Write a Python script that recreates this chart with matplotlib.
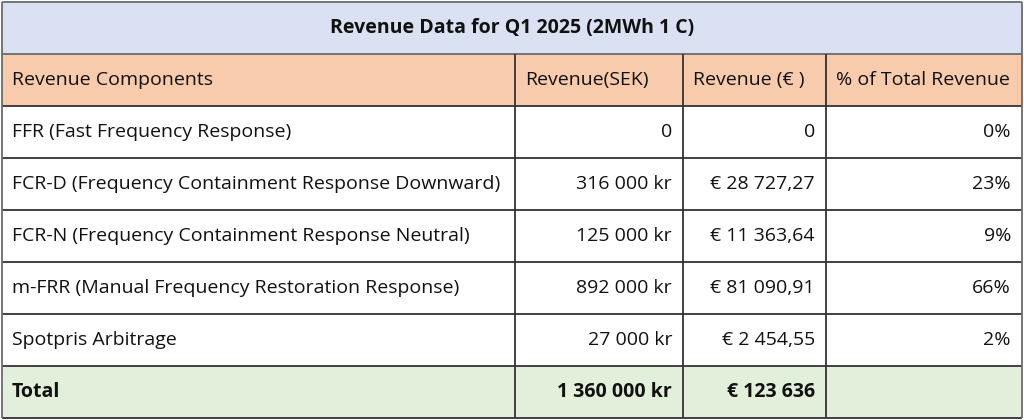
import matplotlib
matplotlib.use("Agg")
import matplotlib.pyplot as plt
from matplotlib.patches import Rectangle

# table content
title = "Revenue Data for Q1 2025 (2MWh 1 C)"
headers = ["Revenue Components", "Revenue(SEK)", "Revenue (€ )", "% of Total Revenue"]
components = [
    "FFR (Fast Frequency Response)",
    "FCR-D (Frequency Containment Response Downward)",
    "FCR-N (Frequency Containment Response Neutral)",
    "m-FRR (Manual Frequency Restoration Response)",
    "Spotpris Arbitrage",
]
revenue_sek = ["0", "316 000 kr", "125 000 kr", "892 000 kr", "27 000 kr"]
revenue_eur = ["0", "€ 28 727,27", "€ 11 363,64", "€ 81 090,91", "€ 2 454,55"]
share = ["0%", "23%", "9%", "66%", "2%"]
total_label = "Total"
total_sek = "1 360 000 kr"
total_eur = "€ 123 636"
total_share = ""

# layout in pixels
W, H = 1024, 420
left, right = 2, 1022
col_edges = [left, 515, 683, 826, right]
top, row_h = 2, 52
title_c = "#d9e1f2"
head_c = "#f8cbad"
total_c = "#e2efda"
line_c = "#333333"

plt.rcParams["font.family"] = ["Open Sans", "DejaVu Sans"]

fig = plt.figure(figsize=(W / 100, H / 100), dpi=100)
ax = fig.add_axes([0, 0, 1, 1])
ax.set_xlim(0, W)
ax.set_ylim(H, 0)
ax.axis("off")

rows = [headers] + [list(r) for r in zip(components, revenue_sek, revenue_eur, share)]
rows.append([total_label, total_sek, total_eur, total_share])
n_rows = len(rows) + 1  # plus title row
bottom = top + n_rows * row_h

# backgrounds
ax.add_patch(Rectangle((left, top), right - left, row_h, fc=title_c, ec="none"))
ax.add_patch(Rectangle((left, top + row_h), right - left, row_h, fc=head_c, ec="none"))
ax.add_patch(Rectangle((left, bottom - row_h), right - left, row_h, fc=total_c, ec="none"))

# grid lines
for i in range(n_rows + 1):
    y = top + i * row_h
    c = "#6b6b6b" if i <= 1 else line_c
    ax.plot([left, right], [y, y], color=c, lw=1.3, solid_capstyle="butt")
for j, x in enumerate(col_edges):
    y0 = top if j in (0, len(col_edges) - 1) else top + row_h
    c = "#6b6b6b" if j in (0, len(col_edges) - 1) else line_c
    ax.plot([x, x], [y0, bottom], color=c, lw=1.3, solid_capstyle="butt")

fs = 14
ax.text((left + right) / 2, top + row_h / 2, title, ha="center", va="center",
        fontsize=fs, fontweight="bold", color="#111111")

for i, row in enumerate(rows):
    yc = top + (i + 1) * row_h + row_h / 2
    bold = i == len(rows) - 1
    for j, txt in enumerate(row):
        if i == 0 or j == 0:
            x, ha = col_edges[j] + 10, "left"
        else:
            x, ha = col_edges[j + 1] - 11, "right"
        ax.text(x, yc, txt, ha=ha, va="center", fontsize=fs,
                fontweight="bold" if bold else "normal", color="#111111")

fig.savefig("out.png", dpi=100)
